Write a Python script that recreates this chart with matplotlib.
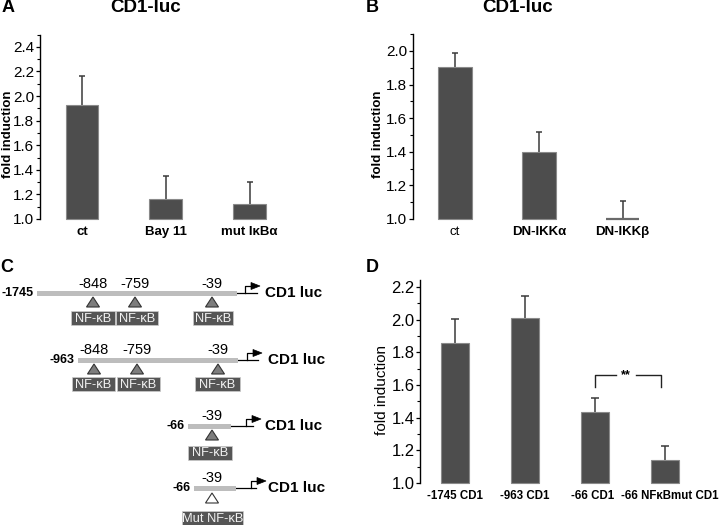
import matplotlib
matplotlib.use('Agg')
import matplotlib.pyplot as plt
import numpy as np
from matplotlib.patches import Rectangle, Polygon
from matplotlib.ticker import MultipleLocator
from matplotlib.transforms import ScaledTranslation

plt.rcParams['font.family'] = ['Liberation Sans', 'DejaVu Sans']

# ---------------- data ----------------
a_labels = ['ct', 'Bay 11', 'mut I\u03baB\u03b1']
a_vals = [1.93, 1.16, 1.12]
a_err = [0.235, 0.19, 0.185]

b_labels = ['ct', 'DN-IKK\u03b1', 'DN-IKK\u03b2']
b_vals = [1.905, 1.40, 1.0]
b_err = [0.085, 0.12, 0.105]

d_labels = ['-1745 CD1', '-963 CD1', '-66 CD1', '-66 NF\u03baBmut CD1']
d_vals = [1.86, 2.013, 1.433, 1.138]
d_err = [0.147, 0.13, 0.09, 0.086]

c_starts = ['-1745', '-963', '-66', '-66']
c_sites = [['-848', '-759', '-39'], ['-848', '-759', '-39'], ['-39'], ['-39']]
c_boxes = [['NF-\u03baB'] * 3, ['NF-\u03baB'] * 3, ['NF-\u03baB'], ['Mut NF-\u03baB']]
c_mutant = [False, False, False, True]

W, H = 720, 525
fig = plt.figure(figsize=(7.2, 5.25), dpi=100)

def fx(x):
    return x / W

def fy(y):
    return 1 - y / H

BAR_FC = '#4d4d4d'
BAR_EC = '#8a8a8a'
ERR_C = '#3a3a3a'


def bar_panel(left, bottom_px, top_px, width_px, xlim, ylim, vals, errs, labels,
              barw, capsize, tick_fs, xl_fs, xl_weights):
    ax = fig.add_axes([fx(left), fy(bottom_px), fx(width_px), (bottom_px - top_px) / H])
    x = np.arange(len(vals))
    v = np.array(vals)
    e = np.array(errs)
    ax.bar(x, v - 1.0, bottom=1.0, width=barw, color=BAR_FC, edgecolor=BAR_EC,
           linewidth=0.8, clip_on=False, zorder=2)
    ax.vlines(x, v, v + e, color=ERR_C, lw=1.1, zorder=1)
    ax.plot(x, v + e, ls='none', marker='_', markersize=capsize * 2,
            markeredgewidth=1.1, color=ERR_C, zorder=1)
    ax.set_xlim(*xlim)
    ax.set_ylim(*ylim)
    for s in ['top', 'right', 'bottom']:
        ax.spines[s].set_visible(False)
    ax.spines['left'].set_linewidth(1.0)
    ax.yaxis.set_major_locator(MultipleLocator(0.2))
    ax.yaxis.set_minor_locator(MultipleLocator(0.1))
    ax.yaxis.set_major_formatter(matplotlib.ticker.FormatStrFormatter('%.1f'))
    ax.tick_params(axis='y', which='major', length=3, width=0.9, labelsize=tick_fs, pad=1)
    ax.tick_params(axis='y', which='minor', length=2, width=0.8)
    ax.set_xticks(x)
    ax.set_xticklabels(labels, fontsize=xl_fs)
    for t, w in zip(ax.get_xticklabels(), xl_weights):
        t.set_fontweight(w)
    ax.tick_params(axis='x', length=0, pad=5)
    ax.patch.set_alpha(0)
    return ax

# Panel A
axA = bar_panel(40, 219, 34.6, 260, (-0.5, 2.6), (1.0, 2.5), a_vals, a_err, a_labels,
                0.39, 2.2, 11, 9.5, ['bold'] * 3)
# Panel B
axB = bar_panel(413, 219, 34.2, 260, (-0.5, 2.6), (1.0, 2.1), b_vals, b_err, b_labels,
                0.40, 2.5, 11, 9.5, ['normal', 'bold', 'bold'])
for p in axB.patches[-1:]:
    p.set_edgecolor('#6a6a6a')
    p.set_linewidth(1.6)
# Panel D
axD = bar_panel(420, 483, 280.5, 287, (-0.5, 3.6), (1.0, 2.24), d_vals, d_err, d_labels,
                0.41, 3.2, 12, 8.3, ['bold'] * 4)
lbl = axD.get_xticklabels()
lbl[2].set_transform(lbl[2].get_transform() + ScaledTranslation(-2 / 100, 0, fig.dpi_scale_trans))
lbl[3].set_transform(lbl[3].get_transform() + ScaledTranslation(5 / 100, 0, fig.dpi_scale_trans))

# significance bracket in D
y_top, y_bot = 1.66, 1.585
axD.plot([2, 2, 2.3], [y_bot, y_top, y_top], color='#222222', lw=1.0)
axD.plot([2.58, 2.94, 2.94], [y_top, y_top, y_bot], color='#222222', lw=1.0)
axD.text(2.44, y_top, '**', ha='center', va='center', fontsize=9, fontweight='bold')

# labels / titles
fig.text(fx(8), fy(134), 'fold induction', rotation=90, ha='center', va='center',
         fontsize=9.5, fontweight='bold')
fig.text(fx(378), fy(134), 'fold induction', rotation=90, ha='center', va='center',
         fontsize=9.5, fontweight='bold')
fig.text(fx(382), fy(390), 'fold induction', rotation=90, ha='center', va='center',
         fontsize=11)
fig.text(fx(2), fy(8), 'A', ha='left', va='center', fontsize=13, fontweight='bold')
fig.text(fx(366), fy(8), 'B', ha='left', va='center', fontsize=13, fontweight='bold')
fig.text(fx(0), fy(268), 'C', ha='left', va='center', fontsize=13, fontweight='bold')
fig.text(fx(366), fy(268), 'D', ha='left', va='center', fontsize=13, fontweight='bold')
fig.text(fx(146), fy(8), 'CD1-luc', ha='center', va='center', fontsize=13.5, fontweight='bold')
fig.text(fx(518), fy(8), 'CD1-luc', ha='center', va='center', fontsize=13.5, fontweight='bold')

# ---------------- Panel C schematic ----------------
axC = fig.add_axes([0, 0, 0.5, 265 / H])
axC.set_xlim(0, 360)
axC.set_ylim(525, 260)
axC.axis('off')

row_y = [293, 360, 426, 488]
bar_x = [(37, 237), (78, 238), (188, 231), (194, 236)]
site_x = [[93, 135, 212], [94, 137, 218], [212], [212]]
box_x = [[(71, 115), (116, 158), (193, 233)], [(72, 115), (117, 160), (195, 240)],
         [(188, 232)], [(182, 243)]]
box_off = [18, 17, 20, 23]
tri_off = [4, 4, 4, 5]
line_end = [257, 258, 253, 256]
arrow_x = [245, 247, 246, 251]
luc_x = [265, 268, 265, 268]

for i in range(4):
    y = row_y[i]
    x0, x1 = bar_x[i]
    axC.add_patch(Rectangle((x0, y - 2.5), x1 - x0, 5, facecolor='#bdbdbd',
                            edgecolor='none', zorder=2))
    axC.plot([x1, line_end[i]], [y, y], color='black', lw=0.9, zorder=1)
    ax_ = arrow_x[i]
    axC.plot([ax_, ax_, ax_ + 7], [y, y - 7, y - 7], color='black', lw=0.9)
    axC.add_patch(Polygon([[ax_ + 6, y - 10.5], [ax_ + 6, y - 3.5], [ax_ + 15, y - 7]],
                          closed=True, facecolor='black', edgecolor='black', lw=0.5))
    axC.text(luc_x[i], y, 'CD1 luc', ha='left', va='center', fontsize=11,
             fontweight='bold')
    axC.text(x0 - 3, y, c_starts[i], ha='right', va='center', fontsize=9,
             fontweight='bold')
    for sx, sl in zip(site_x[i], c_sites[i]):
        axC.text(sx, y - 9.5, sl, ha='center', va='center', fontsize=10.5)
        t0 = y + tri_off[i]
        fc = 'white' if c_mutant[i] else '#7d7d7d'
        axC.add_patch(Polygon([[sx, t0], [sx - 6.5, t0 + 10], [sx + 6.5, t0 + 10]],
                              closed=True, facecolor=fc, edgecolor='#333333', lw=0.8))
    for (bx0, bx1), bl in zip(box_x[i], c_boxes[i]):
        by = y + box_off[i]
        axC.add_patch(Rectangle((bx0, by), bx1 - bx0, 14, facecolor='#555555',
                                edgecolor='#cccccc', lw=0.5))
        axC.text((bx0 + bx1) / 2, by + 7.5, bl, ha='center', va='center', fontsize=9.3,
                 color='#f2f2f2')

fig.savefig('out.png', dpi=100)
